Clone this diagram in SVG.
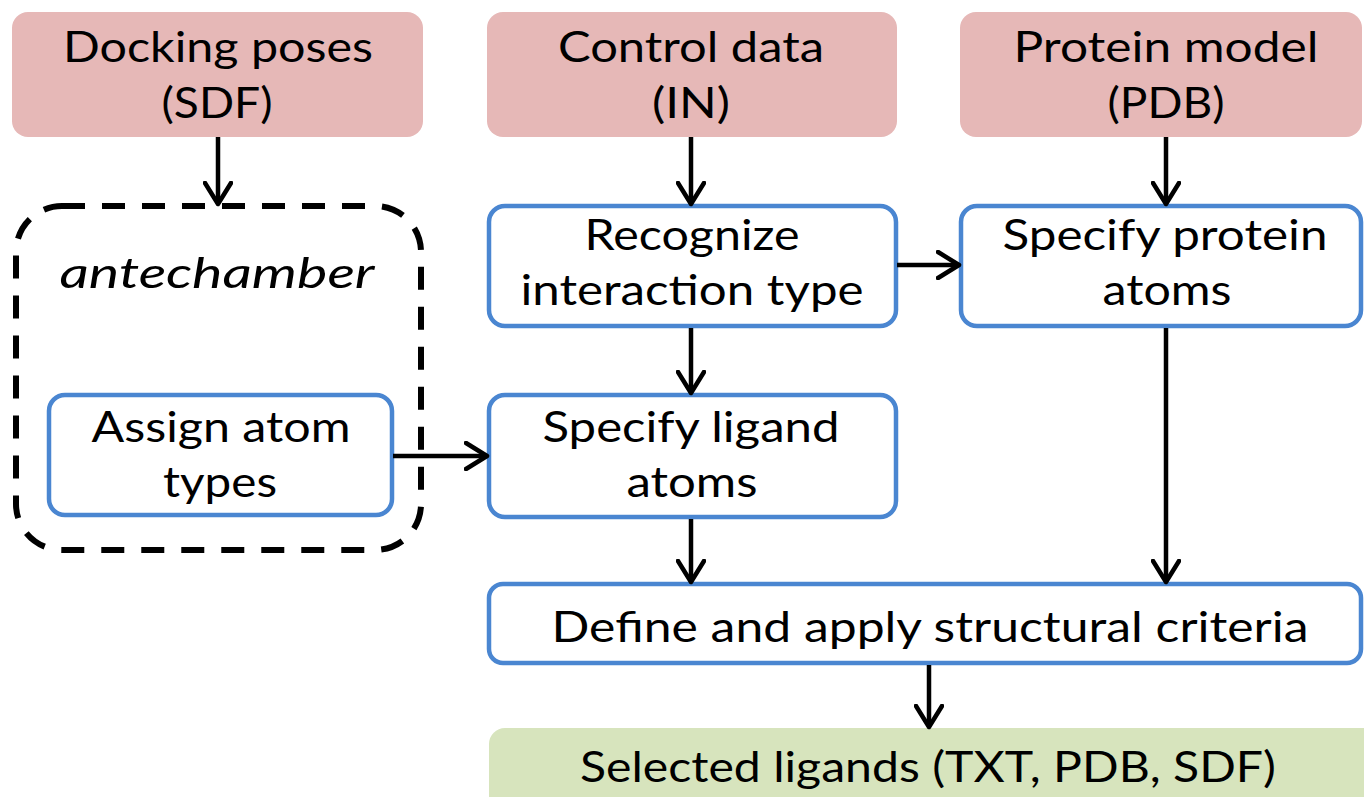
<svg xmlns="http://www.w3.org/2000/svg" width="1364" height="797" viewBox="0 0 1364 797">
<defs>
<style>
.src{fill:#e6b8b7;stroke:none}
.out{fill:#d7e4bd;stroke:none}
.proc{fill:#fff;stroke:#4a86d1;stroke-width:4.5}
.dash{fill:none;stroke:#000;stroke-width:6;stroke-dasharray:23 17}
text{font-family:Lato,"Open Sans","Liberation Sans",sans-serif;font-size:43px;fill:#000;text-anchor:middle}
.it{font-style:italic}
.conn{fill:none;stroke:#000;stroke-width:4.5}
</style>
<marker id="ah" viewBox="0 0 26 30" refX="23" refY="15" markerWidth="26" markerHeight="30" markerUnits="userSpaceOnUse" orient="auto">
<path d="M2,2 L23,15 L2,28" fill="none" stroke="#000" stroke-width="4.5" stroke-linejoin="round" stroke-linecap="round"/>
</marker>
</defs>
<rect width="1364" height="797" fill="#fff"/>

<g id="docking">
<rect class="src" x="12" y="12" width="411" height="125" rx="16"/>
<text x="218" y="62" textLength="310" lengthAdjust="spacingAndGlyphs">Docking poses</text>
<text x="217" y="118" textLength="111" lengthAdjust="spacingAndGlyphs">(SDF)</text>
</g>
<g id="control">
<rect class="src" x="487" y="12" width="410" height="125" rx="16"/>
<text x="691" y="62" textLength="266" lengthAdjust="spacingAndGlyphs">Control data</text>
<text x="691" y="118" textLength="78" lengthAdjust="spacingAndGlyphs">(IN)</text>
</g>
<g id="protein">
<rect class="src" x="960" y="12" width="402" height="125" rx="16"/>
<text x="1166" y="62" textLength="305" lengthAdjust="spacingAndGlyphs">Protein model</text>
<text x="1166" y="118" textLength="117" lengthAdjust="spacingAndGlyphs">(PDB)</text>
</g>

<g id="antechamber">
<rect class="dash" x="16" y="206" width="405" height="344" rx="46"/>
<text class="it" x="217" y="288" textLength="315" lengthAdjust="spacingAndGlyphs">antechamber</text>
</g>
<g id="assign">
<rect class="proc" x="49" y="395" width="343" height="120" rx="16"/>
<text x="221" y="442" textLength="259" lengthAdjust="spacingAndGlyphs">Assign atom</text>
<text x="220" y="497" textLength="114" lengthAdjust="spacingAndGlyphs">types</text>
</g>
<g id="recognize">
<rect class="proc" x="489" y="206" width="407" height="120" rx="16"/>
<text x="692" y="250" textLength="215" lengthAdjust="spacingAndGlyphs">Recognize</text>
<text x="692" y="305" textLength="343" lengthAdjust="spacingAndGlyphs">interaction type</text>
</g>
<g id="specprot">
<rect class="proc" x="961" y="206" width="400" height="120" rx="16"/>
<text x="1165" y="250" textLength="325" lengthAdjust="spacingAndGlyphs">Specify protein</text>
<text x="1167" y="305" textLength="129" lengthAdjust="spacingAndGlyphs">atoms</text>
</g>
<g id="speclig">
<rect class="proc" x="489" y="395" width="407" height="122" rx="16"/>
<text x="691" y="442" textLength="297" lengthAdjust="spacingAndGlyphs">Specify ligand</text>
<text x="692" y="497" textLength="131" lengthAdjust="spacingAndGlyphs">atoms</text>
</g>
<g id="define">
<rect class="proc" x="489" y="584" width="872" height="79" rx="14"/>
<text x="930" y="642" textLength="757" lengthAdjust="spacingAndGlyphs">Define and apply structural criteria</text>
</g>
<g id="selected">
<rect class="out" x="489" y="728" width="890" height="90" rx="16"/>
<text x="928" y="782" textLength="696" lengthAdjust="spacingAndGlyphs">Selected ligands (TXT, PDB, SDF)</text>
</g>

<g id="connectors">
<line class="conn" x1="218" y1="137" x2="218" y2="204" marker-end="url(#ah)"/>
<line class="conn" x1="691" y1="137" x2="691" y2="204" marker-end="url(#ah)"/>
<line class="conn" x1="1166" y1="137" x2="1166" y2="204" marker-end="url(#ah)"/>
<line class="conn" x1="897" y1="265" x2="959" y2="265" marker-end="url(#ah)"/>
<line class="conn" x1="691" y1="328" x2="691" y2="393" marker-end="url(#ah)"/>
<line class="conn" x1="393" y1="456" x2="487" y2="456" marker-end="url(#ah)"/>
<line class="conn" x1="691" y1="519" x2="691" y2="582" marker-end="url(#ah)"/>
<line class="conn" x1="1166" y1="328" x2="1166" y2="582" marker-end="url(#ah)"/>
<line class="conn" x1="929" y1="665" x2="929" y2="727" marker-end="url(#ah)"/>
</g>
</svg>
